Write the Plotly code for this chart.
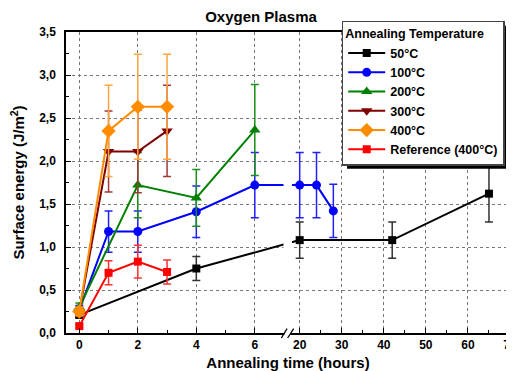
import plotly.graph_objects as go

# ---------------- data ----------------
series_names = ["50°C", "100°C", "200°C", "300°C", "400°C", "Reference (400°C)"]

t_50 = [0, 4, 20, 42, 65]
e_50 = [0.21, 0.75, 1.08, 1.08, 1.62]
err_50 = [0.03, 0.14, 0.21, 0.21, 0.33]

t_100 = [0, 1, 2, 4, 6, 20, 24, 28]
e_100 = [0.27, 1.18, 1.18, 1.41, 1.72, 1.72, 1.72, 1.42]
err_100 = [0.05, 0.24, 0.24, 0.30, 0.38, 0.38, 0.38, 0.31]

t_200 = [0, 2, 4, 6]
e_200 = [0.30, 1.72, 1.57, 2.36]
err_200 = [0.05, 0.38, 0.33, 0.53]

t_300 = [0, 1, 2, 3]
e_300 = [0.25, 2.11, 2.11, 2.35]
err_300 = [0.05, 0.47, 0.48, 0.53]

t_400 = [0, 1, 2, 3]
e_400 = [0.25, 2.35, 2.63, 2.63]
err_400 = [0.05, 0.53, 0.61, 0.61]

t_ref = [0, 1, 2, 3]
e_ref = [0.08, 0.70, 0.83, 0.71]
err_ref = [0.02, 0.14, 0.19, 0.14]

x_major_hours = [0, 2, 4, 6, 20, 30, 40, 50, 60, 70]
x_minor_hours = [1, 3, 5, 25, 35, 45, 55, 65]
y_ticks = [0, 0.5, 1.0, 1.5, 2.0, 2.5, 3.0, 3.5]
y_tick_labels = ["0,0", "0,5", "1,0", "1,5", "2,0", "2,5", "3,0", "3,5"]
y_minor = [0.25, 0.75, 1.25, 1.75, 2.25, 2.75, 3.25]

# ---------------- broken time axis ----------------
LEFT_END = 7.0          # last hour of the left segment
RIGHT_START = 20.0      # first hour of the right segment
RIGHT_POS = 7.534       # axis position of RIGHT_START
RIGHT_SCALE = 0.1438    # axis units per hour on the right segment
X_MIN = -0.455


def xmap(t):
    if t <= LEFT_END:
        return t
    return RIGHT_POS + (t - RIGHT_START) * RIGHT_SCALE


X_MAX = xmap(70)

FONT = "Liberation Sans, Arial, sans-serif"

styles = [
    dict(color="#000000", err="#333333", symbol="square", size=8),
    dict(color="#0000FF", err="#2020FF", symbol="circle", size=9),
    dict(color="#008000", err="#1a8f1a", symbol="triangle-up", size=10),
    dict(color="#800000", err="#a03838", symbol="triangle-down", size=10),
    dict(color="#FF8C00", err="#FFA540", symbol="diamond", size=11),
    dict(color="#FF0000", err="#FF3030", symbol="square", size=8),
]
data = [
    (t_50, e_50, err_50),
    (t_100, e_100, err_100),
    (t_200, e_200, err_200),
    (t_300, e_300, err_300),
    (t_400, e_400, err_400),
    (t_ref, e_ref, err_ref),
]

fig = go.Figure()
for name, (tt, ee, er), st in zip(series_names, data, styles):
    fig.add_trace(go.Scatter(
        x=[xmap(v) for v in tt], y=ee, name=name,
        mode="lines+markers",
        line=dict(color=st["color"], width=2),
        marker=dict(symbol=st["symbol"], size=st["size"], color=st["color"],
                    line=dict(width=0)),
        error_y=dict(type="data", array=er, visible=True, color=st["err"],
                     thickness=1.5, width=4),
        cliponaxis=False,
    ))

# gaps in the lines where they cross the axis break
gap0 = xmap(LEFT_END) - 0.02
gap1 = 7.27
shapes = [
    dict(type="rect", xref="x", yref="y", x0=gap0, x1=gap1, y0=0.95, y1=1.15,
         fillcolor="white", line=dict(width=0), layer="above"),
    dict(type="rect", xref="x", yref="y", x0=gap0, x1=gap1, y0=1.62, y1=1.82,
         fillcolor="white", line=dict(width=0), layer="above"),
    # break in the bottom axis line
    dict(type="rect", xref="x", yref="paper", x0=7.01, x1=7.216, y0=-0.012, y1=0.012,
         fillcolor="white", line=dict(width=0), layer="above"),
    dict(type="line", xref="x", yref="paper", x0=6.908, x1=7.103, y0=-0.0166, y1=0.0143,
         line=dict(color="black", width=1.3), layer="above"),
    dict(type="line", xref="x", yref="paper", x0=7.123, x1=7.329, y0=-0.0166, y1=0.0143,
         line=dict(color="black", width=1.3), layer="above"),
    # legend drop shadow
    dict(type="rect", xref="paper", yref="paper", x0=0.633, x1=1.0, y0=0.546, y1=1.021,
         fillcolor="black", line=dict(width=0), layer="above"),
]

# the page adds an 8px body margin, so the figure is 8px smaller than the window
fig.update_layout(
    width=506, height=363,
    margin=dict(l=58, r=4, t=24, b=38, autoexpand=False),
    paper_bgcolor="white", plot_bgcolor="white",
    font=dict(family=FONT, size=12, color="black", weight="bold"),
    title=dict(text="Oxygen Plasma", x=253 / 506, xanchor="center",
               y=1 - 8.5 / 363, yanchor="middle", xref="container", yref="container",
               font=dict(family=FONT, size=15, color="black", weight="bold")),
    shapes=shapes,
    showlegend=True,
    legend=dict(
        title=dict(text="Annealing Temperature",
                   font=dict(family=FONT, size=12.5, color="black", weight="bold")),
        font=dict(family=FONT, size=12.5, color="black", weight="bold"),
        x=0.621, xanchor="left", y=1.0375, yanchor="top",
        bgcolor="white", bordercolor="#444444", borderwidth=1.5,
        tracegroupgap=0, itemwidth=37,
    ),
    xaxis=dict(
        range=[X_MIN, X_MAX], showline=True, linecolor="black", linewidth=1.5,
        mirror=True, ticks="inside", ticklen=5, tickwidth=1.3, tickcolor="black",
        tickmode="array", tickvals=[xmap(v) for v in x_major_hours],
        ticktext=[str(v) for v in x_major_hours], ticklabeloverflow="allow",
        tickfont=dict(family=FONT, size=12, color="black", weight="bold"),
        showgrid=True, gridcolor="#777777", griddash="dot", gridwidth=1,
        zeroline=False, automargin=False,
        minor=dict(tickvals=[xmap(v) for v in x_minor_hours], ticks="inside",
                   ticklen=3, tickwidth=1.2, tickcolor="black", showgrid=False),
        title=dict(text="Annealing time (hours)", standoff=6,
                   font=dict(family=FONT, size=15, color="black", weight="bold")),
    ),
    yaxis=dict(
        range=[0, 3.5], showline=True, linecolor="black", linewidth=1.5,
        mirror=True, ticks="inside", ticklen=5, tickwidth=1.3, tickcolor="black",
        tickmode="array", tickvals=y_ticks, ticktext=y_tick_labels,
        tickfont=dict(family=FONT, size=12, color="black", weight="bold"),
        ticklabelstandoff=6,
        showgrid=True, gridcolor="#777777", griddash="dot", gridwidth=1,
        zeroline=False, automargin=False,
        minor=dict(tickvals=y_minor, ticks="inside", ticklen=3, tickwidth=1.2,
                   tickcolor="black", showgrid=False),
        title=dict(text="Surface energy (J/m<sup>2</sup>)", standoff=12,
                   font=dict(family=FONT, size=15, color="black", weight="bold")),
    ),
)

fig.write_html("out.html")
